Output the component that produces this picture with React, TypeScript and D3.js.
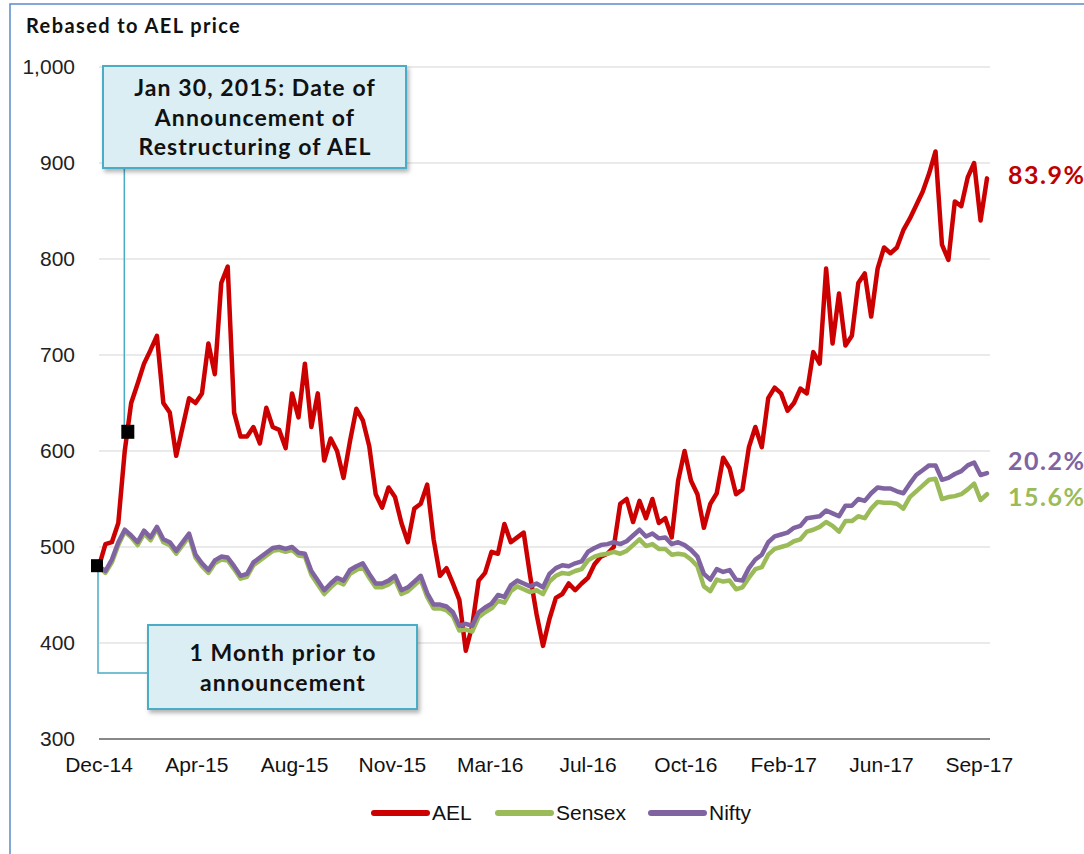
import React from "react";
import * as d3 from "d3";

// Trading-day index step between samples (weekly closes)
const STEP_DAYS = 5;
const TOTAL_DAYS = 690;
const TICK_EVERY = 76;
const tickLabels = ["Dec-14","Apr-15","Aug-15","Nov-15","Mar-16","Jul-16","Oct-16","Feb-17","Jun-17","Sep-17"];
const yTicks = [300, 400, 500, 600, 700, 800, 900, 1000];

const ael = [
  480,503,505,525,600,650,670,691,705,720,650,640,595,625,655,650,660,712,680,775,
  792,640,615,615,625,608,645,625,622,603,660,635,691,625,660,590,613,600,572,610,
  644,632,605,555,541,562,552,525,505,540,545,565,508,470,478,462,445,392,418,465,
  473,495,493,524,505,510,515,470,430,397,425,447,451,462,455,462,468,482,490,493,
  500,545,550,526,548,530,550,525,530,510,569,600,569,555,520,545,556,593,582,555,
  560,604,625,604,655,666,660,642,650,665,660,703,691,790,712,764,710,720,775,785,
  740,790,812,806,812,830,842,856,870,889,912,815,799,860,855,885,900,840,884
];

const sensex = [
  480,473,484,502,516,510,502,514,507,519,505,502,493,502,511,489,480,473,483,487,
  486,477,467,469,481,486,491,496,497,495,497,491,490,471,461,451,458,464,461,472,
  476,479,468,458,458,461,466,451,454,460,466,448,436,436,434,428,413,414,412,427,
  432,436,444,442,454,459,456,453,455,451,464,470,473,472,475,477,486,490,492,493,
  495,493,496,502,508,501,503,498,498,492,493,492,487,480,459,454,466,464,465,456,
  458,468,477,479,492,498,500,502,506,508,516,518,521,526,522,516,527,527,532,530,
  540,547,546,546,545,540,552,558,564,570,571,550,552,553,555,560,566,549,555
];

const nifty = [
  480,475,487,505,518,512,505,517,510,521,508,505,496,505,514,492,483,476,486,490,
  489,480,470,472,484,489,494,499,500,498,500,494,493,475,465,455,462,468,465,476,
  480,483,472,462,462,465,470,455,458,464,470,452,440,440,438,432,418,420,418,432,
  437,441,450,448,460,465,462,459,462,458,472,478,481,480,483,485,495,499,502,503,
  505,503,506,512,518,511,514,509,510,503,505,502,497,490,472,466,477,474,476,466,
  465,478,487,492,505,511,513,515,520,522,530,531,532,538,535,532,543,543,550,548,
  556,562,561,561,558,556,566,575,580,585,585,570,572,576,579,585,588,575,577
];

const seriesNames = ["AEL", "Sensex", "Nifty"];
const seriesColors = ["#CC0000", "#9BBB59", "#8064A2"];
const endLabels = ["83.9%", "15.6%", "20.2%"];
const announceDay = 22;

export default function App() {
  const W = 1084, H = 854;
  const x = d3.scaleLinear().domain([0, TOTAL_DAYS]).range([99, 987]);
  const y = d3.scaleLinear().domain([300, 1000]).range([739, 67]);
  const allSeries = [ael, sensex, nifty];
  const line = d3.line<number>()
    .x((_, i) => x(i * STEP_DAYS))
    .y((d) => y(d))
    .curve(d3.curveLinear);

  const aelAt = (day: number) => {
    const days = ael.map((_, i) => i * STEP_DAYS);
    return d3.scaleLinear().domain(days).range(ael)(day);
  };

  const m0x = x(0), m0y = y(ael[0]);
  const m1x = x(announceDay), m1y = y(aelAt(announceDay));
  const tickDays = tickLabels.map((_, i) => i * TICK_EVERY);

  const boxFont = "Lato, 'Open Sans', sans-serif";

  return (
    <svg width={W} height={H} style={{ position: "absolute", left: 0, top: 0, background: "#fff" }}
      fontFamily="'Liberation Sans', Arial, sans-serif">
      <defs>
        <filter id="sh" x="-10%" y="-10%" width="130%" height="140%">
          <feDropShadow dx="2" dy="3" stdDeviation="2" floodColor="#000" floodOpacity="0.3" />
        </filter>
      </defs>
      <rect x={10} y={4} width={1200} height={1000} fill="#fff" stroke="#5B8BC9" strokeWidth={1.5} />
      <text x={26} y={33} fontFamily={boxFont} fontWeight="bold" fontSize={20} letterSpacing={1.4} fill="#111">Rebased to AEL price</text>

      {yTicks.map((t) => (
        <g key={t}>
          {t !== 300 && <line x1={99} x2={990} y1={y(t)} y2={y(t)} stroke="#E3E3E3" strokeWidth={1.5} />}
          <text x={75} y={y(t)} dy="0.35em" textAnchor="end" fontSize={21} fill="#222">{d3.format(",")(t)}</text>
        </g>
      ))}
      <line x1={99} x2={990} y1={y(300)} y2={y(300)} stroke="#888" strokeWidth={2} />
      {tickDays.map((d, i) => (
        <text key={i} x={x(d)} y={772} textAnchor="middle" fontSize={21} fill="#111">{tickLabels[i]}</text>
      ))}

      {allSeries.map((s, i) => (
        <path key={i} d={line(s) || ""} fill="none" stroke={seriesColors[i]} strokeWidth={4.5}
          strokeLinejoin="round" strokeLinecap="round" />
      ))}

      {/* connectors */}
      <polyline points={`${m1x - 3},${m1y} ${m1x - 3},168`} fill="none" stroke="#4BACC6" strokeWidth={1.5} />
      <polyline points={`${m0x - 1},${m0y} ${m0x - 1},673 148,673`} fill="none" stroke="#4BACC6" strokeWidth={1.5} />

      <rect x={m0x - 8} y={m0y - 7} width={12} height={13} fill="#000" />
      <rect x={m1x - 6} y={m1y - 7} width={13} height={14} fill="#000" />

      <g filter="url(#sh)">
        <rect x={103} y={66} width={303} height={102} fill="#DBEEF4" stroke="#4BACC6" strokeWidth={2} />
        <rect x={148} y={625} width={269} height={84} fill="#DBEEF4" stroke="#4BACC6" strokeWidth={2} />
      </g>
      <g fontFamily={boxFont} fontWeight="bold" fontSize={23} letterSpacing={1.1} fill="#111" textAnchor="middle">
        <text x={255} y={96}>Jan 30, 2015: Date of</text>
        <text x={255} y={126}>Announcement of</text>
        <text x={255} y={155}>Restructuring of AEL</text>
        <text x={283} y={661}>1 Month prior to</text>
        <text x={283} y={691}>announcement</text>
      </g>

      {allSeries.map((s, i) => (
        <text key={i} x={1008} y={y(s[s.length - 1]) + (i === 0 ? -3 : i === 2 ? -12 : 3)} dy="0.35em"
          fontFamily={boxFont} fontWeight="bold" fontSize={25} letterSpacing={1.5}
          fill={i === 0 ? "#C00000" : seriesColors[i]}>
          {endLabels[i]}
        </text>
      ))}

      {/* legend */}
      {seriesNames.map((n, i) => {
        const lx = [374, 498, 651][i];
        return (
          <g key={n}>
            <line x1={lx} x2={lx + 53} y1={813} y2={813} stroke={seriesColors[i]} strokeWidth={6} strokeLinecap="round" />
            <text x={lx + 58} y={813} dy="0.35em" fontSize={21} fill="#111">{n}</text>
          </g>
        );
      })}
    </svg>
  );
}
